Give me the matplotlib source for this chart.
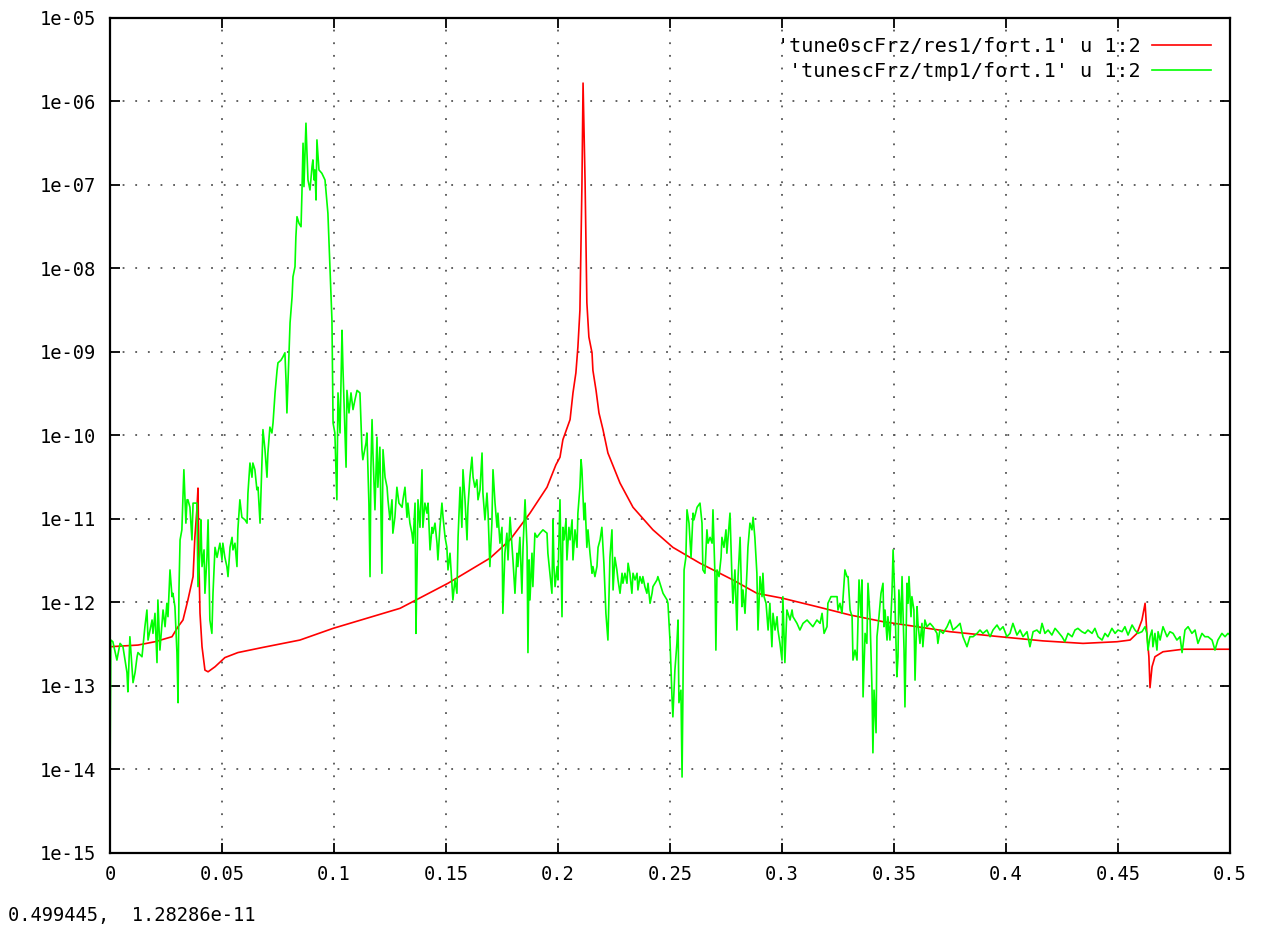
import matplotlib
matplotlib.use("Agg")
import matplotlib.pyplot as plt
from matplotlib.ticker import NullLocator
import numpy as np

# red curve: x and log10(y)
red_x = [0.0, 0.0125, 0.0201, 0.0277, 0.0304, 0.0326, 0.0348, 0.0371, 0.0379, 0.0388,
         0.0393, 0.0397, 0.0402, 0.0411, 0.0424, 0.0438, 0.0469, 0.0513, 0.0571, 0.0679,
         0.0848, 0.0996, 0.1295, 0.1509, 0.1696, 0.1786, 0.1875, 0.1951, 0.1991, 0.2009,
         0.2022, 0.2054, 0.2067, 0.2080, 0.2089, 0.2098, 0.2107, 0.2112, 0.2121, 0.2129,
         0.2138, 0.2152, 0.2156, 0.2170, 0.2183, 0.2201, 0.2223, 0.2277, 0.2335, 0.2424,
         0.2513, 0.2634, 0.2781, 0.2888, 0.3004, 0.3156, 0.3304, 0.3451, 0.3603, 0.3750,
         0.3973, 0.4165, 0.4344, 0.4496, 0.4554, 0.4585, 0.4607, 0.4621, 0.4629, 0.4638,
         0.4643, 0.4652, 0.4665, 0.4701, 0.4790, 0.5000]
red_log = [-12.53, -12.51, -12.47, -12.41, -12.29, -12.21, -11.97, -11.69, -11.22, -10.89,
           -10.63, -11.49, -12.13, -12.53, -12.81, -12.83, -12.77, -12.66, -12.60, -12.54,
           -12.45, -12.31, -12.07, -11.77, -11.47, -11.25, -10.93, -10.62, -10.35, -10.26,
           -10.05, -9.81, -9.49, -9.25, -8.94, -8.50, -7.00, -5.78, -6.96, -8.41,
           -8.82, -9.01, -9.22, -9.46, -9.73, -9.93, -10.21, -10.57, -10.86, -11.13,
           -11.34, -11.53, -11.73, -11.89, -11.95, -12.05, -12.15, -12.23, -12.29, -12.35,
           -12.41, -12.46, -12.49, -12.47, -12.45, -12.37, -12.21, -12.01, -12.37, -12.65,
           -13.02, -12.77, -12.65, -12.59, -12.56, -12.56]

# green curve: x and log10(y)
green_x = [
    0.0, 0.0004, 0.0013, 0.0031, 0.0045, 0.0058, 0.0076, 0.0080, 0.0089, 0.0103,
    0.0112, 0.0121, 0.0125, 0.0143, 0.0156, 0.0165, 0.0170, 0.0188, 0.0192, 0.0201,
    0.0210, 0.0214, 0.0223, 0.0237, 0.0246, 0.0254, 0.0259, 0.0268, 0.0277, 0.0281,
    0.0290, 0.0299, 0.0304, 0.0308, 0.0313, 0.0321, 0.0330, 0.0339, 0.0344, 0.0348,
    0.0357, 0.0366, 0.0371, 0.0388, 0.0393, 0.0402, 0.0406, 0.0411, 0.0420, 0.0424,
    0.0433, 0.0438, 0.0446, 0.0455, 0.0460, 0.0469, 0.0478, 0.0491, 0.0500, 0.0504,
    0.0513, 0.0522, 0.0527, 0.0536, 0.0545, 0.0549, 0.0558, 0.0567, 0.0571, 0.0580,
    0.0589, 0.0603, 0.0612, 0.0616, 0.0625, 0.0634, 0.0638, 0.0647, 0.0656, 0.0661,
    0.0670, 0.0679, 0.0683, 0.0692, 0.0701, 0.0705, 0.0714, 0.0723, 0.0728, 0.0737,
    0.0746, 0.0750, 0.0763, 0.0772, 0.0781, 0.0786, 0.0790, 0.0795, 0.0804, 0.0813,
    0.0817, 0.0826, 0.0830, 0.0835, 0.0844, 0.0853, 0.0857, 0.0862, 0.0866, 0.0875,
    0.0879, 0.0884, 0.0893, 0.0902, 0.0906, 0.0911, 0.0915, 0.0920, 0.0924, 0.0933,
    0.0946, 0.0960, 0.0973, 0.0982, 0.0991, 0.0996, 0.1004, 0.1013, 0.1018, 0.1027,
    0.1036, 0.1040, 0.1049, 0.1054, 0.1058, 0.1067, 0.1076, 0.1085, 0.1094, 0.1103,
    0.1116, 0.1125, 0.1129, 0.1143, 0.1147, 0.1156, 0.1161, 0.1165, 0.1170, 0.1174,
    0.1183, 0.1192, 0.1196, 0.1205, 0.1214, 0.1219, 0.1228, 0.1237, 0.1241, 0.1250,
    0.1259, 0.1263, 0.1272, 0.1281, 0.1290, 0.1304, 0.1308, 0.1317, 0.1326, 0.1330,
    0.1339, 0.1348, 0.1353, 0.1362, 0.1366, 0.1371, 0.1375, 0.1384, 0.1393, 0.1397,
    0.1406, 0.1415, 0.1420, 0.1429, 0.1438, 0.1442, 0.1451, 0.1460, 0.1464, 0.1473,
    0.1482, 0.1487, 0.1496, 0.1504, 0.1509, 0.1518, 0.1527, 0.1531, 0.1540, 0.1549,
    0.1554, 0.1563, 0.1571, 0.1576, 0.1585, 0.1594, 0.1598, 0.1607, 0.1616, 0.1621,
    0.1629, 0.1638, 0.1643, 0.1652, 0.1661, 0.1665, 0.1674, 0.1683, 0.1688, 0.1696,
    0.1705, 0.1710, 0.1719, 0.1728, 0.1732, 0.1741, 0.1750, 0.1754, 0.1763, 0.1772,
    0.1777, 0.1786, 0.1795, 0.1799, 0.1808, 0.1817, 0.1821, 0.1830, 0.1839, 0.1844,
    0.1853, 0.1862, 0.1866, 0.1871, 0.1875, 0.1884, 0.1888, 0.1897, 0.1906, 0.1920,
    0.1933, 0.1951, 0.1955, 0.1964, 0.1973, 0.1978, 0.1982, 0.1987, 0.1996, 0.2000,
    0.2009, 0.2018, 0.2022, 0.2027, 0.2036, 0.2040, 0.2049, 0.2054, 0.2063, 0.2067,
    0.2076, 0.2085, 0.2089, 0.2098, 0.2103, 0.2107, 0.2116, 0.2121, 0.2129, 0.2134,
    0.2143, 0.2152, 0.2156, 0.2165, 0.2174, 0.2179, 0.2188, 0.2196, 0.2205, 0.2214,
    0.2223, 0.2232, 0.2241, 0.2246, 0.2254, 0.2263, 0.2268, 0.2277, 0.2286, 0.2290,
    0.2299, 0.2308, 0.2313, 0.2321, 0.2330, 0.2335, 0.2344, 0.2353, 0.2357, 0.2366,
    0.2375, 0.2379, 0.2388, 0.2397, 0.2402, 0.2411, 0.2420, 0.2424, 0.2442, 0.2446,
    0.2455, 0.2464, 0.2469, 0.2478, 0.2487, 0.2491, 0.2500, 0.2509, 0.2513, 0.2522,
    0.2531, 0.2536, 0.2540, 0.2549, 0.2554, 0.2558, 0.2563, 0.2571, 0.2576, 0.2585,
    0.2594, 0.2603, 0.2607, 0.2621, 0.2634, 0.2643, 0.2647, 0.2656, 0.2665, 0.2670,
    0.2679, 0.2688, 0.2692, 0.2701, 0.2705, 0.2710, 0.2719, 0.2728, 0.2732, 0.2741,
    0.2750, 0.2754, 0.2763, 0.2768, 0.2777, 0.2781, 0.2790, 0.2799, 0.2804, 0.2813,
    0.2821, 0.2826, 0.2835, 0.2844, 0.2848, 0.2857, 0.2866, 0.2871, 0.2879, 0.2888,
    0.2893, 0.2902, 0.2911, 0.2915, 0.2920, 0.2929, 0.2938, 0.2946, 0.2955, 0.2960,
    0.2969, 0.2978, 0.2982, 0.2991, 0.3000, 0.3004, 0.3013, 0.3022, 0.3027, 0.3036,
    0.3045, 0.3049, 0.3067, 0.3080, 0.3094, 0.3112, 0.3125, 0.3138, 0.3156, 0.3170,
    0.3179, 0.3188, 0.3201, 0.3205, 0.3219, 0.3228, 0.3246, 0.3250, 0.3259, 0.3268,
    0.3281, 0.3290, 0.3295, 0.3304, 0.3313, 0.3317, 0.3326, 0.3335, 0.3344, 0.3353,
    0.3357, 0.3362, 0.3371, 0.3379, 0.3384, 0.3393, 0.3402, 0.3406, 0.3411, 0.3420,
    0.3424, 0.3433, 0.3442, 0.3451, 0.3455, 0.3460, 0.3469, 0.3473, 0.3482, 0.3491,
    0.3496, 0.3504, 0.3513, 0.3518, 0.3522, 0.3531, 0.3536, 0.3545, 0.3549, 0.3558,
    0.3563, 0.3567, 0.3576, 0.3580, 0.3589, 0.3594, 0.3603, 0.3607, 0.3616, 0.3625,
    0.3629, 0.3638, 0.3647, 0.3661, 0.3674, 0.3692, 0.3696, 0.3705, 0.3719, 0.3737,
    0.3750, 0.3763, 0.3781, 0.3795, 0.3808, 0.3826, 0.3839, 0.3853, 0.3871, 0.3884,
    0.3897, 0.3915, 0.3929, 0.3942, 0.3960, 0.3973, 0.3987, 0.4004, 0.4018, 0.4031,
    0.4049, 0.4063, 0.4076, 0.4094, 0.4107, 0.4121, 0.4138, 0.4152, 0.4161, 0.4174,
    0.4188, 0.4205, 0.4219, 0.4232, 0.4250, 0.4263, 0.4277, 0.4295, 0.4308, 0.4321,
    0.4339, 0.4353, 0.4366, 0.4384, 0.4397, 0.4411, 0.4429, 0.4442, 0.4455, 0.4473,
    0.4487, 0.4500, 0.4518, 0.4531, 0.4545, 0.4563, 0.4576, 0.4589, 0.4607, 0.4621,
    0.4629, 0.4634, 0.4643, 0.4652, 0.4656, 0.4665, 0.4674, 0.4679, 0.4688, 0.4701,
    0.4719, 0.4732, 0.4746, 0.4763, 0.4777, 0.4786, 0.4799, 0.4813, 0.4830, 0.4844,
    0.4857, 0.4875, 0.4888, 0.4902, 0.4920, 0.4933, 0.4946, 0.4964, 0.4978, 0.4991,
    0.5000]
green_log = [
    -14.21, -12.45, -12.47, -12.69, -12.49, -12.53, -12.84, -13.07, -12.41, -12.96,
    -12.84, -12.65, -12.60, -12.65, -12.29, -12.09, -12.45, -12.21, -12.37, -12.13,
    -12.72, -11.97, -12.57, -12.09, -12.29, -12.01, -12.17, -11.61, -11.93, -11.89,
    -12.05, -12.60, -13.20, -11.85, -11.25, -11.13, -10.41, -11.05, -10.77, -10.77,
    -10.86, -11.25, -10.81, -10.81, -11.81, -11.37, -11.01, -11.57, -11.37, -11.89,
    -11.46, -11.01, -12.21, -12.37, -11.89, -11.34, -11.46, -11.29, -11.49, -11.29,
    -11.46, -11.57, -11.69, -11.34, -11.22, -11.37, -11.29, -11.57, -11.13, -10.77,
    -10.98, -11.01, -11.05, -10.69, -10.33, -10.50, -10.33, -10.41, -10.65, -10.62,
    -11.05, -10.26, -9.93, -10.17, -10.50, -10.21, -9.90, -9.97, -9.85, -9.49,
    -9.22, -9.13, -9.10, -9.06, -9.01, -9.34, -9.73, -9.34, -8.65, -8.34,
    -8.10, -7.98, -7.62, -7.38, -7.46, -7.50, -7.10, -6.50, -7.02, -6.26,
    -6.58, -6.94, -7.06, -6.78, -6.70, -6.94, -6.82, -7.18, -6.46, -6.82,
    -6.86, -6.94, -7.34, -7.98, -8.62, -9.85, -9.97, -10.77, -9.49, -9.97,
    -8.74, -9.18, -9.97, -10.38, -9.46, -9.73, -9.49, -9.69, -9.57, -9.46,
    -9.49, -10.17, -10.29, -10.09, -9.97, -10.81, -11.69, -10.38, -9.81, -10.21,
    -10.89, -10.02, -10.62, -10.14, -11.65, -10.17, -10.50, -10.62, -10.77, -11.01,
    -10.77, -11.17, -10.98, -10.62, -10.81, -10.86, -10.77, -10.62, -10.98, -10.81,
    -11.05, -11.17, -11.29, -10.81, -12.37, -11.57, -10.77, -11.10, -10.41, -11.10,
    -10.81, -10.93, -10.81, -11.37, -11.10, -11.17, -11.05, -11.29, -11.49, -11.10,
    -10.81, -10.98, -11.22, -11.34, -11.61, -11.41, -11.81, -11.97, -11.73, -11.89,
    -11.22, -10.62, -11.10, -10.41, -10.77, -11.25, -10.86, -10.50, -10.26, -10.50,
    -10.62, -10.53, -10.77, -10.65, -10.21, -10.69, -11.01, -10.69, -10.93, -11.57,
    -11.05, -10.41, -10.81, -11.10, -10.93, -11.29, -11.10, -12.13, -11.41, -11.17,
    -11.49, -10.98, -11.34, -11.49, -11.89, -11.41, -11.57, -11.22, -11.89, -11.34,
    -10.77, -11.34, -12.60, -11.49, -11.97, -11.41, -11.81, -11.17, -11.22, -11.17,
    -11.13, -11.17, -11.41, -11.65, -11.89, -11.01, -11.57, -11.81, -11.57, -11.73,
    -10.77, -12.17, -11.10, -11.25, -11.01, -11.49, -11.10, -11.25, -11.01, -11.49,
    -11.13, -11.34, -10.93, -10.62, -10.29, -10.41, -11.01, -10.81, -11.34, -11.13,
    -11.41, -11.65, -11.57, -11.69, -11.57, -11.34, -11.25, -11.10, -11.53, -12.13,
    -12.45, -11.46, -11.13, -11.85, -11.46, -11.61, -11.73, -11.89, -11.65, -11.77,
    -11.65, -11.77, -11.53, -11.65, -11.89, -11.65, -11.73, -11.65, -11.85, -11.69,
    -11.77, -11.69, -11.81, -11.89, -11.77, -12.01, -11.89, -11.81, -11.73, -11.69,
    -11.77, -11.85, -11.89, -11.93, -11.97, -12.01, -12.45, -13.13, -13.37, -12.81,
    -12.49, -12.21, -13.20, -13.05, -14.09, -13.05, -11.61, -11.46, -10.89, -11.05,
    -11.46, -10.93, -11.01, -10.86, -10.81, -11.05, -11.61, -11.65, -11.13, -11.29,
    -11.22, -11.29, -10.89, -11.69, -12.57, -11.61, -11.69, -11.46, -11.22, -11.34,
    -11.13, -11.41, -11.10, -10.93, -11.73, -12.01, -11.61, -12.33, -11.69, -11.22,
    -12.05, -11.85, -12.13, -11.61, -11.34, -11.05, -11.13, -10.98, -11.22, -11.65,
    -12.33, -11.69, -11.93, -11.65, -11.93, -12.01, -12.33, -12.01, -12.53, -12.13,
    -12.33, -12.17, -12.33, -12.49, -12.69, -11.93, -12.72, -12.09, -12.13, -12.21,
    -12.09, -12.17, -12.25, -12.33, -12.25, -12.21, -12.25, -12.29, -12.21, -12.25,
    -12.13, -12.37, -12.29, -12.01, -11.93, -11.93, -11.93, -12.09, -12.01, -12.13,
    -11.61, -11.69, -11.69, -12.09, -12.17, -12.69, -12.57, -12.69, -11.73, -12.17,
    -11.73, -13.13, -12.37, -12.49, -11.77, -12.17, -13.05, -13.80, -13.05, -13.56,
    -12.41, -12.17, -11.89, -11.77, -12.29, -12.09, -12.45, -12.17, -12.45, -11.89,
    -11.37, -11.97, -12.89, -12.65, -11.85, -12.25, -11.69, -12.57, -13.25, -11.77,
    -12.01, -11.69, -12.17, -11.93, -12.09, -12.93, -12.05, -12.25, -12.49, -12.25,
    -12.53, -12.21, -12.29, -12.25, -12.29, -12.37, -12.49, -12.33, -12.37, -12.29,
    -12.21, -12.33, -12.29, -12.25, -12.41, -12.53, -12.41, -12.41, -12.37, -12.33,
    -12.37, -12.33, -12.41, -12.33, -12.27, -12.33, -12.29, -12.41, -12.37, -12.25,
    -12.39, -12.33, -12.41, -12.35, -12.53, -12.35, -12.33, -12.37, -12.25, -12.37,
    -12.33, -12.39, -12.31, -12.35, -12.41, -12.47, -12.37, -12.41, -12.33, -12.31,
    -12.35, -12.37, -12.33, -12.37, -12.31, -12.41, -12.45, -12.37, -12.41, -12.31,
    -12.37, -12.33, -12.35, -12.29, -12.39, -12.27, -12.33, -12.37, -12.35, -12.29,
    -12.37, -12.57, -12.41, -12.33, -12.53, -12.37, -12.57, -12.35, -12.45, -12.29,
    -12.41, -12.35, -12.37, -12.45, -12.41, -12.60, -12.33, -12.29, -12.37, -12.33,
    -12.49, -12.37, -12.41, -12.41, -12.45, -12.57, -12.45, -12.37, -12.41, -12.37,
    -12.39]

xtick_vals = [0, 0.05, 0.1, 0.15, 0.2, 0.25, 0.3, 0.35, 0.4, 0.45, 0.5]
xtick_labels = ["0", "0.05", "0.1", "0.15", "0.2", "0.25", "0.3", "0.35", "0.4", "0.45", "0.5"]
ytick_exps = list(range(-15, -4))
ytick_labels = ["1e%03d" % e for e in ytick_exps]

red_label = "'tune0scFrz/res1/fort.1' u 1:2"
green_label = "'tunescFrz/tmp1/fort.1' u 1:2"
status_text = "0.499445,  1.28286e-11"

plt.rcParams["font.family"] = ["DejaVu Sans Mono", "DejaVu Sans"]

fig = plt.figure(figsize=(12.61, 9.31), dpi=100)
ax = fig.add_axes([0.0872, 0.0838, 0.8882, 0.8969])

ax.plot(red_x, 10.0 ** np.array(red_log), color="#ff0000", lw=1.2, label=red_label)
ax.plot(green_x, 10.0 ** np.array(green_log), color="#00ff00", lw=1.2, label=green_label)

ax.set_yscale("log")
ax.set_xlim(0, 0.5)
ax.set_ylim(1e-15, 1e-5)
ax.set_xticks(xtick_vals, xtick_labels)
ax.set_yticks([10.0 ** e for e in ytick_exps], ytick_labels)
ax.yaxis.set_minor_locator(NullLocator())

ax.tick_params(which="both", direction="in", top=True, right=True,
               length=7, width=1.3, labelsize=13.5)
ax.tick_params(axis="y", pad=10)
ax.tick_params(axis="x", pad=9)
for s in ax.spines.values():
    s.set_linewidth(1.6)

ax.grid(True, color="#555555", linestyle=(0, (1, 6)), linewidth=1.3)

ax.legend(loc="upper right", frameon=False, markerfirst=False, fontsize=14.5,
          handlelength=2.9, handletextpad=0.6, labelspacing=0.3,
          borderaxespad=0.75, borderpad=0.2)

fig.text(0.006, 1 - 915 / 931, status_text, fontsize=13.5, va="center", ha="left")

fig.savefig("out.png", dpi=100)
